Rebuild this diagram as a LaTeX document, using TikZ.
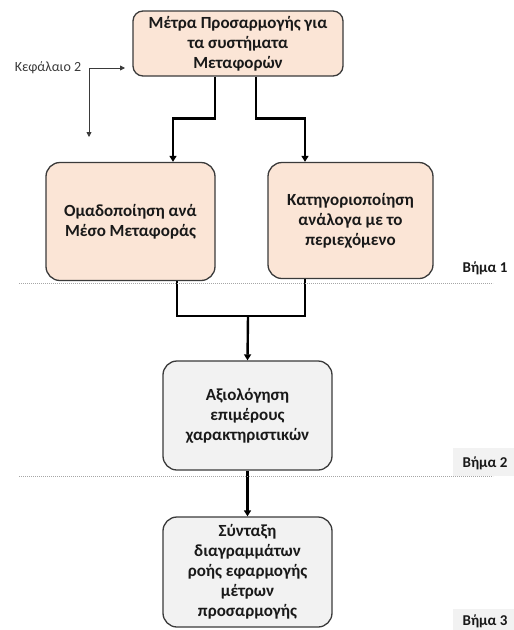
\documentclass[tikz,border=0pt]{standalone}
\usepackage{fontspec}
\setmainfont{Carlito}
\usetikzlibrary{arrows.meta}
\definecolor{peach}{HTML}{FBE5D6}
\definecolor{lightbox}{HTML}{F2F2F2}
\definecolor{edge}{HTML}{3A3A3A}
\definecolor{sep}{HTML}{A6A6A6}
\begin{document}
\begin{tikzpicture}[x=1pt,y=-1pt,
  box/.style={draw=edge,line width=1.3pt,rounded corners=14pt,align=center,
    font=\fontsize{17}{20}\selectfont\bfseries,text=black!90,inner sep=0pt},
  peachbox/.style={box,fill=peach},
  greybox/.style={box,fill=lightbox},
  flow/.style={line width=2.4pt,-{Triangle[width=7pt,length=6pt]}},
  flowline/.style={line width=2.4pt},
  thinarrow/.style={line width=0.8pt,edge,{Triangle[width=5pt,length=5pt]}-{Triangle[width=5pt,length=5pt]}},
  stagesep/.style={sep,line width=0.7pt,dash pattern=on 1.2pt off 0.8pt},
  stagelabel/.style={font=\fontsize{15}{17}\selectfont\bfseries,text=black!90,inner sep=0pt}]
\useasboundingbox (0,0) rectangle (514,630);

% stage background tags
\fill[lightbox] (453,448) rectangle (514,476);
\fill[lightbox] (453,609) rectangle (514,630);

% boxes
\node[peachbox,minimum width=210pt,minimum height=65pt,rounded corners=10pt] (top) at (238,43.5)
  {Μέτρα Προσαρμογής για\\τα συστήματα\\Μεταφορών};
\node[peachbox,minimum width=169pt,minimum height=118pt] (left) at (130.5,221.5)
  {Ομαδοποίηση ανά\\Μέσο Μεταφοράς};
\node[peachbox,minimum width=165pt,minimum height=116pt] (right) at (350.5,220.5)
  {Κατηγοριοποίηση\\ανάλογα με το\\περιεχόμενο};
\node[greybox,minimum width=169pt,minimum height=109pt] (mid) at (247.5,415.5)
  {Αξιολόγηση\\επιμέρους\\χαρακτηριστικών};
\node[greybox,minimum width=169pt,minimum height=110pt] (bot) at (247.5,572)
  {Σύνταξη\\διαγραμμάτων\\ροής εφαρμογής\\μέτρων\\προσαρμογής};

% chapter reference
\node[font=\fontsize{14}{16}\selectfont,text=edge,inner sep=0pt] (ch) at (48,68) {Κεφάλαιο 2};
\coordinate (k1) at (125,68);
\coordinate (k2) at (89,137);
\draw[thinarrow] (k1) -| (k2);

% split from the top box
\draw[flow] ([xshift=-23pt]top.south) -- ++(0,42) -| ([xshift=42.5pt]left.north);
\draw[flow] ([xshift=18pt]top.south) -- ++(0,42) -| ([xshift=-45.5pt]right.north);

% merge into the evaluation box
\coordinate (m) at (248,316);
\draw[flowline] ([xshift=46.5pt]left.south) |- (m);
\draw[flowline] ([xshift=-45.5pt]right.south) |- (m);
\draw[flow] (m) -- (mid.north);
\draw[flow] (mid.south) -- (bot.north);

% stage separators
\draw[stagesep] (19,283) -- (493,283);
\draw[stagesep] (19,476) -- (493,476);

% stage labels
\node[stagelabel] (s1) at (485,268) {Βήμα 1};
\node[stagelabel] (s2) at (485,463) {Βήμα 2};
\node[stagelabel] (s3) at (485,621) {Βήμα 3};
\end{tikzpicture}
\end{document}
